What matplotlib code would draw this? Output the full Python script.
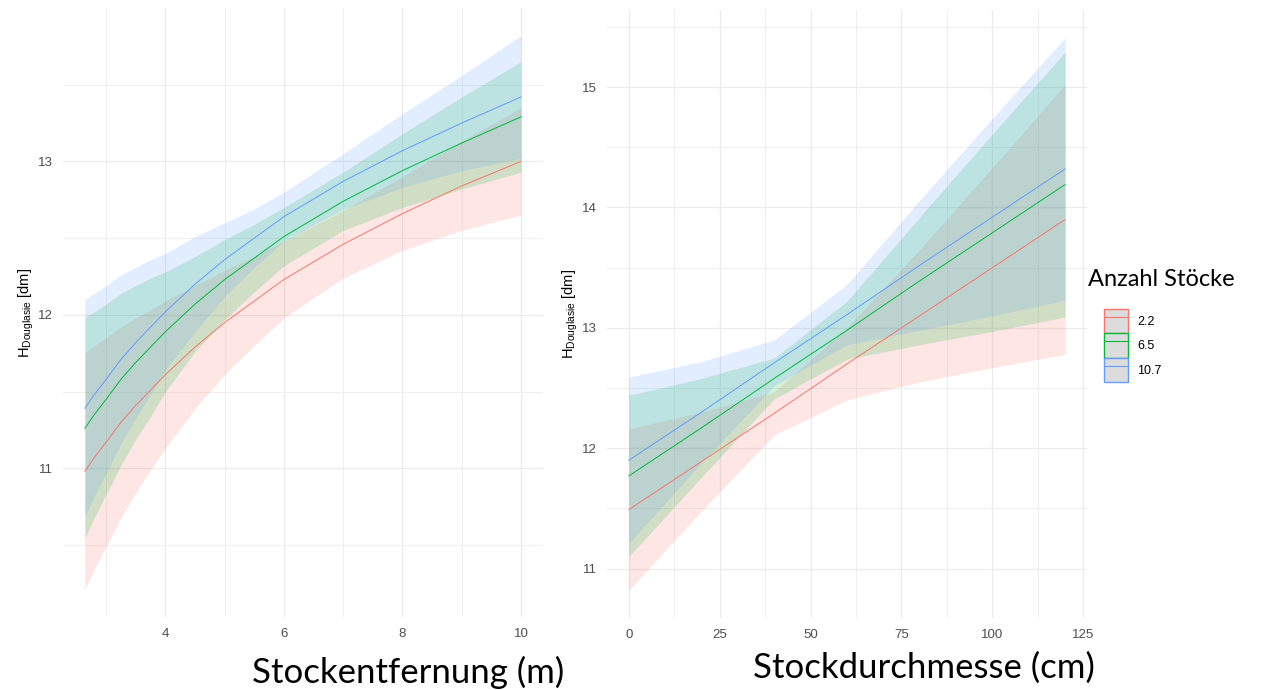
import matplotlib.pyplot as plt
from matplotlib.patches import Patch
from matplotlib.lines import Line2D

plt.rcParams['font.family'] = ['Liberation Sans', 'DejaVu Sans']
plt.rcParams['mathtext.fontset'] = 'custom'
plt.rcParams['mathtext.rm'] = 'Liberation Sans'
plt.rcParams['mathtext.it'] = 'Liberation Sans:italic'

# groups (Anzahl Stoecke) and ggplot hue colours
groups = ['2.2', '6.5', '10.7']
colors = ['#F8766D', '#00BA38', '#619CFF']

# left panel: height vs. Stockentfernung (m)
dist = [2.64, 2.8, 3, 3.25, 3.5, 3.75, 4, 4.5, 5, 5.5, 6, 7, 8, 9, 10]
dist_fit_22 = [10.98, 11.07, 11.17, 11.30, 11.41, 11.51, 11.61, 11.79, 11.95, 12.09, 12.23, 12.46, 12.66, 12.84, 13.00]
dist_lo_22 = [10.21, 10.34, 10.49, 10.68, 10.84, 10.99, 11.13, 11.39, 11.61, 11.80, 11.98, 12.24, 12.42, 12.55, 12.65]
dist_hi_22 = [11.75, 11.80, 11.85, 11.92, 11.98, 12.03, 12.09, 12.19, 12.29, 12.38, 12.48, 12.68, 12.90, 13.13, 13.35]
dist_fit_65 = [11.26, 11.35, 11.45, 11.58, 11.69, 11.79, 11.89, 12.07, 12.23, 12.37, 12.51, 12.74, 12.94, 13.12, 13.29]
dist_lo_65 = [10.54, 10.68, 10.83, 11.02, 11.19, 11.34, 11.50, 11.76, 11.97, 12.15, 12.32, 12.55, 12.70, 12.82, 12.93]
dist_hi_65 = [11.98, 12.02, 12.07, 12.14, 12.19, 12.24, 12.28, 12.38, 12.49, 12.59, 12.70, 12.93, 13.18, 13.42, 13.65]
dist_fit_107 = [11.39, 11.48, 11.58, 11.71, 11.82, 11.92, 12.02, 12.20, 12.36, 12.50, 12.64, 12.87, 13.07, 13.25, 13.42]
dist_lo_107 = [10.68, 10.82, 10.97, 11.16, 11.33, 11.48, 11.64, 11.89, 12.12, 12.31, 12.48, 12.69, 12.83, 12.94, 13.02]
dist_hi_107 = [12.10, 12.14, 12.19, 12.26, 12.31, 12.36, 12.40, 12.51, 12.60, 12.69, 12.80, 13.05, 13.31, 13.56, 13.82]

# right panel: height vs. Stockdurchmesser (cm)
diam = [0, 20, 40, 60, 80, 100, 120]
diam_fit_22 = [11.49, 11.89, 12.29, 12.70, 13.10, 13.50, 13.90]
diam_lo_22 = [10.82, 11.48, 12.11, 12.40, 12.55, 12.67, 12.78]
diam_hi_22 = [12.16, 12.30, 12.47, 13.00, 13.65, 14.33, 15.02]
diam_fit_65 = [11.77, 12.17, 12.58, 12.98, 13.39, 13.79, 14.19]
diam_lo_65 = [11.10, 11.76, 12.41, 12.74, 12.86, 12.97, 13.09]
diam_hi_65 = [12.44, 12.58, 12.75, 13.22, 13.92, 14.61, 15.29]
diam_fit_107 = [11.90, 12.30, 12.71, 13.11, 13.52, 13.92, 14.32]
diam_lo_107 = [11.21, 11.88, 12.52, 12.86, 12.98, 13.10, 13.23]
diam_hi_107 = [12.59, 12.72, 12.90, 13.36, 14.06, 14.74, 15.41]

dist_fit = [dist_fit_22, dist_fit_65, dist_fit_107]
dist_lo = [dist_lo_22, dist_lo_65, dist_lo_107]
dist_hi = [dist_hi_22, dist_hi_65, dist_hi_107]
diam_fit = [diam_fit_22, diam_fit_65, diam_fit_107]
diam_lo = [diam_lo_22, diam_lo_65, diam_lo_107]
diam_hi = [diam_hi_22, diam_hi_65, diam_hi_107]

fig = plt.figure(figsize=(12.64, 6.9), dpi=100)
ax1 = fig.add_axes([0.0498, 0.1058, 0.3797, 0.8826])
ax2 = fig.add_axes([0.4802, 0.1043, 0.3797, 0.8812])


def style_axis(ax, xlim, ylim, xmaj, xmin, ymaj, ymin):
    ax.set_xlim(*xlim)
    ax.set_ylim(*ylim)
    ax.set_xticks(xmaj)
    ax.set_xticks(xmin, minor=True)
    ax.set_yticks(ymaj)
    ax.set_yticks(ymin, minor=True)
    ax.grid(True, which='major', color='#EBEBEB', lw=0.9)
    ax.grid(True, which='minor', color='#EFEFEF', lw=0.7)
    ax.set_axisbelow(True)
    for s in ax.spines.values():
        s.set_visible(False)
    ax.tick_params(which='both', length=0, labelsize=9.5, labelcolor='#4D4D4D')
    ax.tick_params(axis='x', pad=8)
    ax.tick_params(axis='y', pad=7)
    ax.set_ylabel(r'$\mathrm{H}_{\mathrm{Douglasie}}$ [dm]', fontsize=10.5, labelpad=2)


# ribbons first, then the fitted lines on top
for ax, x, fit, lo, hi in [(ax1, dist, dist_fit, dist_lo, dist_hi),
                           (ax2, diam, diam_fit, diam_lo, diam_hi)]:
    for i in range(3):
        ax.fill_between(x, lo[i], hi[i], color=colors[i], alpha=0.18, lw=0)
    for i in range(3):
        ax.plot(x, fit[i], color=colors[i], lw=0.7)

style_axis(ax1, (2.27, 10.37), (10.03, 14.0), [4, 6, 8, 10], [3, 5, 7, 9],
           [11, 12, 13], [10.5, 11.5, 12.5, 13.5])
style_axis(ax2, (-6, 126), (10.59, 15.64), [0, 25, 50, 75, 100, 125],
           [12.5, 37.5, 62.5, 87.5, 112.5], [11, 12, 13, 14, 15],
           [11.5, 12.5, 13.5, 14.5, 15.5])

# big axis titles (slide overlay text)
fig.text(408 / 1264, 1 - 672 / 690, 'Stockentfernung (m)', family='Lato',
         fontsize=25, ha='center', va='center')
fig.text(924 / 1264, 1 - 668 / 690, 'Stockdurchmesse (cm)', family='Lato',
         fontsize=25, ha='center', va='center')

# legend
fig.text(1088 / 1264, 1 - 280 / 690, 'Anzahl Stöcke', family='Lato',
         fontsize=17, ha='left', va='center')
handles = [(Patch(facecolor='#DCDCDC', edgecolor=c, lw=1),
            Line2D([], [], color=c, lw=0.8)) for c in colors]
fig.legend(handles, groups, loc='upper left',
           bbox_to_anchor=(1099 / 1264, 1 - 304 / 690), frameon=False,
           fontsize=9, handlelength=1.95, handleheight=2.63, labelspacing=0,
           handletextpad=0.7, borderaxespad=0)

fig.savefig('out.png', dpi=100)
